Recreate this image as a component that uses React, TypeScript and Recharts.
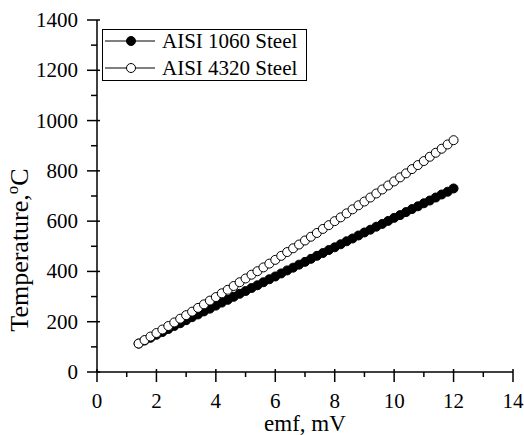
import React from "react";
import { LineChart, Line, XAxis, YAxis } from "recharts";

const emf = [
  1.4, 1.6, 1.8, 2.0, 2.2, 2.4, 2.6, 2.8, 3.0, 3.2, 3.4, 3.6, 3.8, 4.0, 4.2, 4.4, 4.6, 4.8,
  5.0, 5.2, 5.4, 5.6, 5.8, 6.0, 6.2, 6.4, 6.6, 6.8, 7.0, 7.2, 7.4, 7.6, 7.8, 8.0, 8.2, 8.4,
  8.6, 8.8, 9.0, 9.2, 9.4, 9.6, 9.8, 10.0, 10.2, 10.4, 10.6, 10.8, 11.0, 11.2, 11.4, 11.6, 11.8, 12.0,
];

const aisi1060 = [
  113, 125, 136, 148, 159, 171, 183, 194, 206, 218, 229, 241, 252, 264, 276, 287, 299, 311,
  322, 334, 345, 357, 369, 380, 392, 404, 415, 427, 438, 450, 462, 473, 485, 496, 508, 520,
  531, 543, 555, 566, 578, 589, 601, 613, 624, 636, 648, 659, 671, 682, 694, 706, 717, 730,
];

const aisi4320 = [
  113, 127, 141, 155, 169, 183, 197, 212, 226, 240, 255, 269, 284, 298, 313, 327, 342, 357,
  372, 387, 401, 416, 431, 446, 462, 477, 492, 507, 523, 538, 553, 569, 584, 600, 615, 631,
  647, 663, 678, 694, 710, 726, 742, 758, 774, 790, 807, 823, 839, 856, 872, 888, 905, 922,
];

const seriesNames = ["AISI 1060 Steel", "AISI 4320 Steel"];
const xTicks = [0, 1, 2, 3, 4, 5, 6, 7, 8, 9, 10, 11, 12, 13, 14];
const yTicks = [0, 100, 200, 300, 400, 500, 600, 700, 800, 900, 1000, 1100, 1200, 1300, 1400];

const data = emf.map((e, i) => ({ emf: e, s1060: aisi1060[i], s4320: aisi4320[i] }));

const FONT = "'Liberation Serif', 'Times New Roman', serif";
const txt = { fontFamily: FONT, fill: "#000" };

const BottomTick = (props: any) => {
  const { x, y, payload } = props;
  const major = payload.value % 2 === 0;
  return (
    <g>
      <line x1={x} y1={y - (major ? 3 : 0)} x2={x} y2={y + (major ? 10 : 5)} stroke="#000" strokeWidth={1.5} />
      {major && (
        <text x={x} y={y + 36} textAnchor="middle" fontSize={21} style={txt}>
          {payload.value}
        </text>
      )}
    </g>
  );
};

const LeftTick = (props: any) => {
  const { x, y, payload } = props;
  const major = payload.value % 200 === 0;
  return (
    <g>
      <line x1={x + (major ? 3 : 0)} y1={y} x2={x - (major ? 10 : 6)} y2={y} stroke="#000" strokeWidth={1.5} />
      {major && (
        <text x={x - 19} y={y + 7} textAnchor="end" fontSize={21} style={txt}>
          {payload.value}
        </text>
      )}
    </g>
  );
};

const TopTick = (props: any) => {
  const { x, y, payload } = props;
  const major = payload.value % 2 === 0;
  return <line x1={x} y1={y} x2={x} y2={y + (major ? 5 : 3)} stroke="#000" strokeWidth={1.5} />;
};

const RightTick = (props: any) => {
  const { x, y, payload } = props;
  const major = payload.value % 200 === 0;
  return <line x1={x} y1={y} x2={x - (major ? 5 : 3)} y2={y} stroke="#000" strokeWidth={1.5} />;
};

const XTitle = (props: any) => {
  const { viewBox } = props;
  return (
    <text x={viewBox.x + viewBox.width / 2} y={viewBox.y + 59} textAnchor="middle" fontSize={23} style={txt}>
      emf, mV
    </text>
  );
};

const YTitle = (props: any) => {
  const { viewBox } = props;
  const cx = viewBox.x + viewBox.width - 69;
  const cy = viewBox.y + 230;
  return (
    <text x={cx} y={cy} transform={`rotate(-90 ${cx} ${cy})`} textAnchor="middle" fontSize={26} style={txt}>
      Temperature,
      <tspan dy={-10} fontSize={17}>o</tspan>
      <tspan dy={10}>C</tspan>
    </text>
  );
};

const LegendBox = () => (
  <div style={{ position: "absolute", left: 102, top: 29, width: 205, height: 52, border: "1.5px solid #000", background: "#fff", boxSizing: "border-box" }}>
    <svg width={202} height={49} style={{ display: "block" }}>
      {seriesNames.map((name, i) => {
        const cy = 11 + i * 27;
        return (
          <g key={name}>
            <line x1={2} y1={cy} x2={52} y2={cy} stroke="#000" strokeWidth={1} />
            <circle cx={28} cy={cy} r={4.5} fill={i === 0 ? "#000" : "#fff"} stroke="#000" strokeWidth={1} />
            <text x={59} y={cy + 7} fontSize={21} style={txt}>
              {name}
            </text>
          </g>
        );
      })}
    </svg>
  </div>
);

export default function App() {
  return (
    <div style={{ position: "absolute", left: 0, top: 0, width: 524, height: 435, background: "#fff" }}>
      <LineChart width={524} height={435} data={data} margin={{ top: 20, right: 11, bottom: 33, left: 37 }}>
        <XAxis
          dataKey="emf"
          type="number"
          domain={[0, 14]}
          ticks={xTicks}
          interval={0}
          tickSize={0}
          tickMargin={0}
          height={30}
          tick={<BottomTick />}
          axisLine={{ stroke: "#000", strokeWidth: 1.5 }}
          tickLine={false}
          label={<XTitle />}
        />
        <XAxis
          xAxisId="top"
          orientation="top"
          type="number"
          domain={[0, 14]}
          ticks={xTicks}
          interval={0}
          tickSize={0}
          tickMargin={0}
          height={0}
          tick={<TopTick />}
          axisLine={{ stroke: "#000", strokeWidth: 1.5 }}
          tickLine={false}
        />
        <YAxis
          type="number"
          domain={[0, 1400]}
          ticks={yTicks}
          interval={0}
          tickSize={0}
          tickMargin={0}
          width={60}
          tick={<LeftTick />}
          axisLine={{ stroke: "#000", strokeWidth: 1.5 }}
          tickLine={false}
          label={<YTitle />}
        />
        <YAxis
          yAxisId="right"
          orientation="right"
          type="number"
          domain={[0, 1400]}
          ticks={yTicks}
          interval={0}
          tickSize={0}
          tickMargin={0}
          width={0}
          tick={<RightTick />}
          axisLine={{ stroke: "#000", strokeWidth: 1.5 }}
          tickLine={false}
        />
        <Line
          dataKey="s1060"
          name={seriesNames[0]}
          stroke="none"
          dot={{ r: 4.5, fill: "#000", stroke: "#000", strokeWidth: 1 }}
          activeDot={false}
          isAnimationActive={false}
        />
        <Line
          dataKey="s4320"
          name={seriesNames[1]}
          stroke="none"
          dot={{ r: 4.5, fill: "#fff", stroke: "#000", strokeWidth: 1 }}
          activeDot={false}
          isAnimationActive={false}
        />
      </LineChart>
      <LegendBox />
    </div>
  );
}
